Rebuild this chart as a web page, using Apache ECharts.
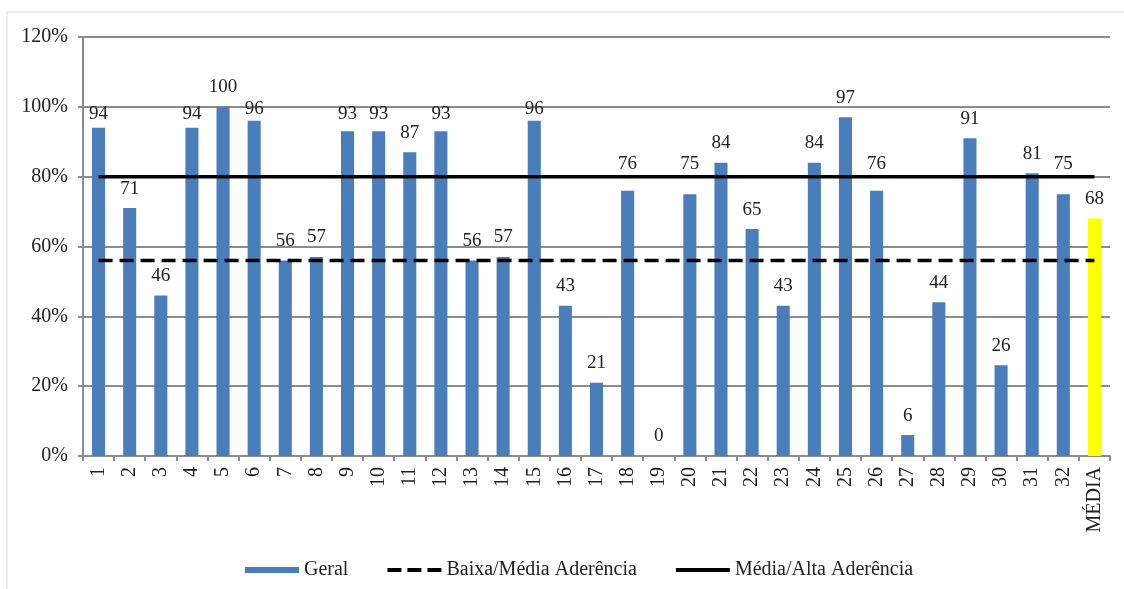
<!DOCTYPE html>
<html>
<head>
<meta charset="utf-8">
<script src="https://cdn.jsdelivr.net/npm/echarts@6/dist/echarts.min.js"></script>
<style>
  html, body { margin: 0; padding: 0; background: #fff; }
  #chart { width: 1124px; height: 589px; }
</style>
</head>
<body>
<div id="chart"></div>
<script>
// Categories: 32 units plus the overall average
const categories = ['1','2','3','4','5','6','7','8','9','10','11','12','13','14','15','16',
  '17','18','19','20','21','22','23','24','25','26','27','28','29','30','31','32','MÉDIA'];
// Adherence per unit (%)
const geral = [94,71,46,94,100,96,56,57,93,93,87,93,56,57,96,43,21,76,0,75,84,65,43,84,97,76,6,44,91,26,81,75,68];
// Threshold levels (%)
const baixaMedia = 56;
const mediaAlta = 80;
const yTicks = [0,20,40,60,80,100,120];

const serif = '"Liberation Serif", "Times New Roman", serif';
const labelFont = 19;

function barData(distances) {
  return geral.map((v, i) => ({
    value: v,
    itemStyle: { color: categories[i] === 'MÉDIA' ? '#ffff00' : '#4a7ebb' },
    label: { distance: distances ? distances[i] : 10 }
  }));
}

const chart = echarts.init(document.getElementById('chart'));
chart.setOption({
  animation: false,
  textStyle: { fontFamily: serif },
  graphic: [{
    type: 'rect', silent: true, z: -10,
    shape: { x: 7, y: 12, width: 1130, height: 590 },
    style: { fill: 'none', stroke: '#d9d9d9', lineWidth: 1 }
  }],
  grid: { left: 83, right: 14, top: 37, bottom: 133, containLabel: false },
  legend: {
    top: 555,
    left: 240,
    itemGap: 37,
    itemWidth: 54,
    itemHeight: 6,
    textStyle: { fontFamily: serif, fontSize: 20, color: '#222' },
    data: [
      { name: 'Geral', icon: 'rect' },
      {
        name: 'Baixa/Média Aderência',
        itemStyle: { color: 'rgba(0,0,0,0)', borderWidth: 0 },
        lineStyle: { width: 4, type: [14, 6] }
      },
      {
        name: 'Média/Alta Aderência',
        itemStyle: { color: 'rgba(0,0,0,0)', borderWidth: 0 },
        lineStyle: { width: 4 }
      }
    ]
  },
  xAxis: {
    type: 'category',
    data: categories,
    boundaryGap: true,
    axisLine: { lineStyle: { color: '#8c8c8c', width: 2 } },
    axisTick: { show: true, interval: 0, length: 5, lineStyle: { color: '#8c8c8c', width: 2 } },
    axisLabel: { interval: 0, rotate: 90, fontFamily: serif, fontSize: 20, color: '#222', margin: 11 }
  },
  yAxis: {
    type: 'value',
    min: yTicks[0],
    max: yTicks[yTicks.length - 1],
    interval: 20,
    axisLine: { show: true, lineStyle: { color: '#8c8c8c', width: 2 } },
    axisTick: { show: true, length: 5, lineStyle: { color: '#8c8c8c', width: 2 } },
    splitLine: { lineStyle: { color: '#8c8c8c', width: 2 } },
    axisLabel: { formatter: '{value}%', fontFamily: serif, fontSize: 20, color: '#222', margin: 15 }
  },
  series: [
    {
      name: 'Geral',
      type: 'bar',
      data: barData(null),
      barWidth: '42%',
      itemStyle: { color: '#4a7ebb' },
      label: { show: true, position: 'top', fontFamily: serif, fontSize: labelFont, color: '#222' },
      z: 2
    },
    {
      name: 'Baixa/Média Aderência',
      type: 'line',
      data: categories.map(() => baixaMedia),
      symbol: 'none',
      itemStyle: { color: '#000' },
      lineStyle: { color: '#000', width: 3.5, type: [14, 7] },
      z: 3
    },
    {
      name: 'Média/Alta Aderência',
      type: 'line',
      data: categories.map(() => mediaAlta),
      symbol: 'none',
      itemStyle: { color: '#000' },
      lineStyle: { color: '#000', width: 3.5 },
      z: 3
    }
  ]
});

// Nudge value labels off the upper threshold line and the 100% gridline
const half = labelFont / 2;
const defaultDist = 10;
const yLine80 = chart.convertToPixel({ yAxisIndex: 0 }, mediaAlta);
const yLine100 = chart.convertToPixel({ yAxisIndex: 0 }, 100);
const distances = geral.map((v) => {
  const top = chart.convertToPixel({ yAxisIndex: 0 }, v);
  const center = top - defaultDist - half;
  if (Math.abs(center - yLine80) < 9 && top > yLine80) {
    return Math.round(top - (yLine80 - 13) - half);
  }
  if (Math.abs(center - yLine100) < 6 && top > yLine100) {
    return Math.max(2, Math.round(top - (yLine100 + 7) - half));
  }
  return defaultDist;
});
chart.setOption({ series: [{ name: 'Geral', data: barData(distances) }] });
</script>
</body>
</html>
